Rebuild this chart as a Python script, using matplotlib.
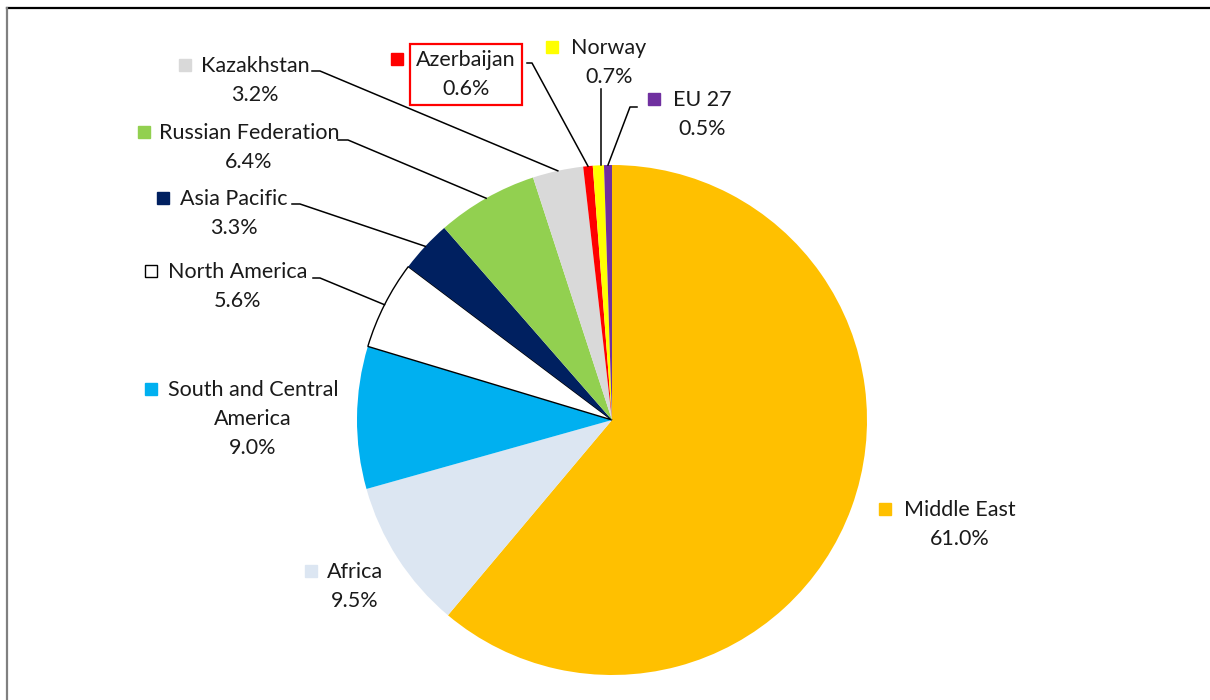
import matplotlib
matplotlib.use("Agg")
import numpy as np
import matplotlib.pyplot as plt

regions = ["Middle East", "Africa", "South and Central\nAmerica", "North America",
           "Asia Pacific", "Russian Federation", "Kazakhstan", "Azerbaijan",
           "Norway", "EU 27"]
shares = [61.0, 9.5, 9.0, 5.6, 3.3, 6.4, 3.2, 0.6, 0.7, 0.5]
colors = ["#FFC000", "#DCE6F2", "#00B0F0", "#FFFFFF", "#002060",
          "#92D050", "#D9D9D9", "#FF0000", "#FFFF00", "#7030A0"]

# label layout in pixels from top-left: text centre x, first line y, marker x
text_x = [960, 355, 253, 238, 234, 249, 255, 466, 609, 702]
line_y = [509, 571, 389, 271, 198, 132, 65, 59, 47, 99]
marker_x = [885, 311, 151, 151, 163, 144, 185, 397, 552, 654]
# leader start: (x where line touches label, x of elbow, y)
leaders = [None, None, None, (313, 320, 278), (292, 300, 204), (338, 348, 140),
           (312, 320, 71), (527, 532, 63), (601, 601, 89), (637, 630, 107)]

plt.rcParams['font.family'] = ['Lato', 'DejaVu Sans']
fs = 15.5
lsp = 29

fig = plt.figure(figsize=(12.1, 7), dpi=100)
ax = fig.add_axes([0, 0, 1, 1])

cx, cy, r = 612, 420, 255
wedges, _ = ax.pie(shares, colors=colors, startangle=-90, counterclock=True,
                   center=(cx, cy), radius=r, frame=True,
                   wedgeprops=dict(linewidth=0))
wedges[3].set_edgecolor("black")
wedges[3].set_linewidth(1.0)

ax.set_xlim(0, 1210)
ax.set_ylim(700, 0)
ax.set_aspect('equal')
ax.axis('off')

for i, name in enumerate(regions):
    label = name + "\n" + f"{shares[i]:.1f}%"
    nlines = label.count("\n") + 1
    yc = line_y[i] + lsp * (nlines - 1) / 2 + 1
    box = None
    if name == "Azerbaijan":
        box = dict(boxstyle="square,pad=0.28", fc="white", ec="#FF0000", lw=1.6)
    ax.text(text_x[i], yc, label, ha='center', va='center', fontsize=fs,
            linespacing=1.55, color="#1a1a1a", bbox=box)
    ec = "black" if colors[i] == "#FFFFFF" else colors[i]
    ax.plot(marker_x[i], line_y[i], marker='s', ms=8.5, mfc=colors[i],
            mec=ec, mew=1.0, ls='none')

    if leaders[i] is not None:
        w = wedges[i]
        th = np.deg2rad((w.theta1 + w.theta2) / 2)
        px = cx + r * np.cos(th)
        py = cy + r * np.sin(th)
        xa, xb, yl = leaders[i]
        if xa == xb:
            ax.plot([xa, xa], [yl, py], color="black", lw=1.1)
        else:
            ax.plot([xa, xb, px], [yl, yl, py], color="black", lw=1.1)

# outer frame (partly cropped in the original)
ax.plot([7, 1210], [8, 8], color="black", lw=1.6, clip_on=False)
ax.plot([7, 7], [8, 700], color="#808080", lw=1.6, clip_on=False)

fig.savefig("out.png", dpi=100)
